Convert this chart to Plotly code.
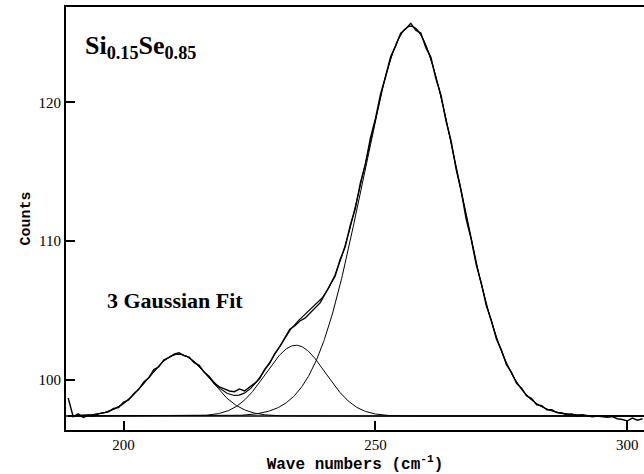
import numpy as np
import plotly.graph_objects as go

wavenumber = list(range(189, 304))
counts = [
    98.70, 97.35, 97.55, 97.30, 97.45, 97.40, 97.55, 97.60, 97.70, 97.95,
    98.00, 98.40, 98.55, 99.00, 99.30, 99.85, 100.15, 100.75, 100.95, 101.45,
    101.60, 101.85, 101.95, 101.75, 101.65, 101.25, 101.05, 100.55, 100.25, 99.75,
    99.50, 99.35, 99.20, 99.15, 99.35, 99.20, 99.45, 99.75, 100.10, 100.75,
    101.20, 101.90, 102.40, 103.05, 103.65, 103.90, 104.25, 104.45, 104.80, 105.15,
    105.55, 106.20, 106.90, 107.50, 108.70, 109.60, 111.15, 112.35, 114.20, 115.55,
    117.45, 118.85, 120.60, 121.85, 123.30, 124.05, 125.00, 125.30, 125.70, 125.20,
    125.00, 123.95, 123.25, 121.70, 120.55, 118.65, 117.25, 115.20, 113.65, 111.60,
    110.15, 108.30, 107.00, 105.35, 104.30, 102.95, 102.15, 101.10, 100.55, 99.75,
    99.40, 98.85, 98.65, 98.20, 98.15, 97.85, 97.85, 97.65, 97.60, 97.50,
    97.55, 97.40, 97.50, 97.40, 97.35, 97.40, 97.35, 97.30, 97.35, 97.20,
    97.15, 97.05, 97.25, 97.10, 97.20,
]

# 3 Gaussian fit parameters
baseline = 97.4
g_centers = [210.9, 234.2, 257.0]
g_amplitudes = [4.45, 5.1, 28.1]
g_sigmas = [6.1, 5.9, 9.5]

x_range = [188.57, 303.3]
y_range = [96.39, 126.88]
x_ticks = [200, 250, 300]
y_ticks = [100, 110, 120]

xf = np.linspace(189, x_range[1], 900)
comps = [a * np.exp(-(xf - c) ** 2 / (2 * s ** 2))
         for c, a, s in zip(g_centers, g_amplitudes, g_sigmas)]
total = baseline + sum(comps)

fig = go.Figure()
fig.add_trace(go.Scatter(x=[x_range[0], x_range[1]], y=[baseline, baseline], mode="lines",
                         line=dict(color="black", width=1.4)))
for comp in comps:
    fig.add_trace(go.Scatter(x=xf, y=baseline + comp, mode="lines",
                             line=dict(color="black", width=1)))
fig.add_trace(go.Scatter(x=xf, y=total, mode="lines", line=dict(color="black", width=1.1)))
fig.add_trace(go.Scatter(x=wavenumber, y=counts, mode="lines",
                         line=dict(color="black", width=1.4)))

fig.update_layout(
    width=644, height=474,
    margin=dict(l=66, r=0, t=7, b=44),
    paper_bgcolor="white", plot_bgcolor="white",
    showlegend=False,
    xaxis=dict(range=x_range, tickvals=x_ticks, ticks="inside", ticklen=9, tickwidth=2,
               tickcolor="black", showline=True, linecolor="black", linewidth=2, mirror=True,
               showgrid=False, zeroline=False,
               tickfont=dict(family="Liberation Serif", size=15, color="black"),
               title=dict(text="Wave numbers (cm<sup>-1</sup>)", standoff=2,
                          font=dict(family="Liberation Mono", size=16, color="black", weight="bold"))),
    yaxis=dict(range=y_range, tickvals=y_ticks, ticks="inside", ticklen=9, tickwidth=1.5,
               tickcolor="black", showline=True, linecolor="black", linewidth=2,
               showgrid=False, zeroline=False,
               tickfont=dict(family="Liberation Serif", size=15, color="black"),
               title=dict(text="Counts", standoff=4,
                          font=dict(family="Liberation Mono", size=15, color="black", weight="bold"))),
    annotations=[
        dict(text="Si<sub>0.15</sub>Se<sub>0.85</sub>", xref="paper", yref="paper",
             x=0.029, y=0.905, xanchor="left", yanchor="middle", showarrow=False,
             font=dict(family="Liberation Serif", size=26, color="black", weight="bold")),
        dict(text="3 Gaussian Fit", xref="paper", yref="paper",
             x=0.0675, y=0.307, xanchor="left", yanchor="middle", showarrow=False,
             font=dict(family="Liberation Serif", size=22, color="black", weight="bold")),
    ],
)

fig.write_html("out.html")
